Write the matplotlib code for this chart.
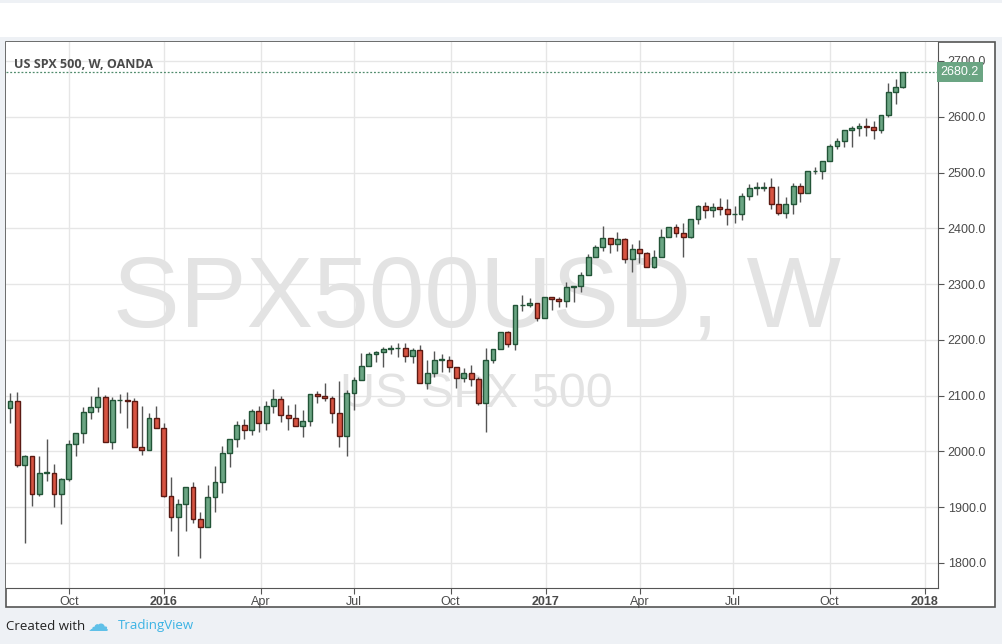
import matplotlib
matplotlib.use("Agg")
import matplotlib.pyplot as plt
from matplotlib.patches import Rectangle

# weekly candles, US SPX 500 (OANDA)
opens = [2078, 2090, 1976, 1992, 1923, 1962, 1962, 1924, 1951, 2014, 2033, 2071, 2080, 2098, 2017, 2092,
         2092, 2090, 2008, 2003, 2060, 2042, 1920, 1882, 1906, 1936, 1879, 1864, 1918, 1945, 1997, 2022,
         2048, 2039, 2073, 2050, 2082, 2093, 2066, 2059, 2046, 2054, 2102, 2100, 2096, 2068, 2027, 2104,
         2128, 2153, 2174, 2178, 2183, 2185, 2185, 2171, 2181, 2122, 2140, 2164, 2164, 2151, 2131, 2140,
         2129, 2086, 2164, 2183, 2214, 2192, 2262, 2262, 2266, 2240, 2276, 2274, 2270, 2294, 2296, 2316,
         2349, 2366, 2382, 2372, 2380, 2345, 2362, 2356, 2330, 2348, 2384, 2402, 2391, 2384, 2416, 2440,
         2432, 2438, 2434, 2425, 2425, 2458, 2472, 2473, 2474, 2443, 2427, 2443, 2476, 2463, 2502, 2502,
         2520, 2547, 2557, 2576, 2580, 2584, 2581, 2577, 2603, 2644, 2653]
closes = [2090, 1976, 1992, 1923, 1962, 1962, 1924, 1951, 2014, 2033, 2071, 2080, 2098, 2017, 2092, 2092,
          2090, 2008, 2003, 2060, 2042, 1920, 1882, 1906, 1936, 1879, 1864, 1918, 1945, 1997, 2022, 2048,
          2039, 2073, 2050, 2082, 2093, 2066, 2059, 2046, 2054, 2102, 2100, 2096, 2068, 2027, 2104, 2128,
          2153, 2174, 2178, 2183, 2185, 2185, 2171, 2181, 2122, 2140, 2164, 2164, 2151, 2131, 2140, 2129,
          2086, 2164, 2183, 2214, 2192, 2262, 2262, 2266, 2240, 2276, 2274, 2270, 2294, 2296, 2316, 2349,
          2366, 2382, 2372, 2380, 2345, 2362, 2356, 2330, 2348, 2384, 2402, 2391, 2384, 2416, 2440, 2432,
          2438, 2434, 2425, 2425, 2458, 2472, 2474, 2474, 2443, 2427, 2443, 2476, 2463, 2502, 2502, 2520,
          2547, 2557, 2576, 2580, 2584, 2581, 2577, 2603, 2644, 2653, 2680.2]
highs = [2105, 2107, 1994, 1992, 1992, 2023, 1978, 1952, 2021, 2033, 2080, 2100, 2116, 2101, 2098, 2102,
         2107, 2096, 2082, 2068, 2082, 2051, 1954, 1915, 1936, 1945, 1891, 1939, 1973, 2010, 2022, 2054,
         2058, 2076, 2081, 2090, 2111, 2100, 2083, 2085, 2074, 2102, 2108, 2123, 2100, 2127, 2110, 2133,
         2176, 2179, 2180, 2188, 2191, 2195, 2195, 2185, 2190, 2164, 2180, 2175, 2171, 2151, 2149, 2155,
         2134, 2185, 2183, 2214, 2216, 2262, 2281, 2275, 2266, 2276, 2277, 2277, 2304, 2296, 2321, 2354,
         2370, 2404, 2382, 2394, 2382, 2372, 2379, 2357, 2361, 2398, 2402, 2408, 2409, 2417, 2442, 2447,
         2446, 2454, 2452, 2440, 2464, 2479, 2483, 2483, 2491, 2476, 2456, 2482, 2482, 2502, 2510, 2520,
         2552, 2561, 2577, 2583, 2589, 2597, 2592, 2604, 2660, 2667, 2681]
lows = [2051, 1972, 1835, 1902, 1920, 1947, 1900, 1870, 1947, 1991, 2015, 2058, 2070, 2017, 2004, 2069,
        2042, 2008, 1994, 2003, 2042, 1919, 1857, 1812, 1858, 1872, 1809, 1864, 1891, 1926, 1972, 2007,
        2023, 2030, 2035, 2039, 2068, 2053, 2038, 2045, 2026, 2046, 2086, 2091, 2051, 2008, 1991, 2075,
        2128, 2153, 2161, 2151, 2175, 2170, 2161, 2158, 2122, 2111, 2134, 2142, 2143, 2114, 2124, 2117,
        2083, 2034, 2158, 2183, 2188, 2182, 2251, 2258, 2234, 2240, 2254, 2258, 2258, 2268, 2286, 2316,
        2348, 2360, 2356, 2360, 2337, 2322, 2337, 2330, 2328, 2348, 2384, 2384, 2348, 2382, 2407, 2418,
        2421, 2423, 2406, 2410, 2414, 2451, 2460, 2466, 2434, 2423, 2419, 2425, 2448, 2463, 2497, 2489,
        2520, 2543, 2546, 2545, 2566, 2566, 2560, 2570, 2600, 2622, 2651]

# time-axis labels (positions in bar index units)
tick_pos = [8.1, 21.0, 34.3, 47.0, 60.2, 73.2, 86.1, 98.8, 112.0, 125.0]
tick_lbl = ["Oct", "2016", "Apr", "Jul", "Oct", "2017", "Apr", "Jul", "Oct", "2018"]
price_ticks = [1800, 1900, 2000, 2100, 2200, 2300, 2400, 2500, 2600, 2700]
last_price = 2680.2

UP, UP_EDGE = "#6ba583", "#225437"
DN, DN_EDGE = "#d75442", "#5b1a13"
TXT = "#4a4a4a"
AXFONT = "Liberation Sans"
W, H = 1002, 644

fig = plt.figure(figsize=(W / 100, H / 100), dpi=100)
fig.patch.set_facecolor("#eef1f5")
# white top strip and chart panel
fig.patches.append(Rectangle((0, 1 - 37 / H), 1, 34 / H, transform=fig.transFigure,
                             facecolor="white", edgecolor="none", zorder=-2))
fig.patches.append(Rectangle((6 / W, 1 - 607 / H), 989 / W, 565 / H, transform=fig.transFigure,
                             facecolor="white", edgecolor="#555555", lw=1.2, zorder=-2))

ax = fig.add_axes([6 / W, 1 - 588 / H, 932 / W, 546 / H])
ax.set_zorder(2)
ax.set_facecolor("white")
ax.set_xlim(-0.55, 126.8)
ax.set_ylim(1755, 2734)

for x in tick_pos:
    ax.axvline(x, color="#e6e6e6", lw=1, zorder=0)
for y in price_ticks:
    ax.axhline(y, color="#e6e6e6", lw=1, zorder=0)

# watermark
ax.text(0.505, 0.525, "SPX500USD, W", transform=ax.transAxes, ha="center", va="center",
        fontsize=72, color="#e3e3e3", zorder=0.5, family=AXFONT)
ax.text(0.505, 0.355, "US SPX 500", transform=ax.transAxes, ha="center", va="center",
        fontsize=35, color="#e3e3e3", zorder=0.5, family=AXFONT)

bw = 0.66
for i, (o, h, l, c) in enumerate(zip(opens, highs, lows, closes)):
    up = c >= o
    edge = UP_EDGE if up else DN_EDGE
    ax.vlines(i, l, h, color="#555555", lw=1, zorder=2)
    lo, hi = min(o, c), max(o, c)
    ax.add_patch(Rectangle((i - bw / 2, lo), bw, max(hi - lo, 0.8),
                           facecolor=UP if up else DN, edgecolor=edge, lw=1, zorder=3))

ax.axhline(last_price, color="#4f8a6b", lw=0.9, ls=(0, (1.5, 1.5)), zorder=1)

ax.yaxis.tick_right()
ax.set_yticks(price_ticks)
ax.set_yticklabels([f"{v:.1f}" for v in price_ticks], family=AXFONT)
ax.set_xticks(tick_pos)
ax.set_xticklabels(tick_lbl, family=AXFONT)
ax.tick_params(axis="y", length=4, color="#555555", labelcolor=TXT, labelsize=9, pad=3)
ax.tick_params(axis="x", length=4, color="#555555", labelcolor=TXT, labelsize=9, pad=2)
for lab in ax.get_xticklabels():
    if lab.get_text() in ("2016", "2017", "2018"):
        lab.set_fontweight("bold")
for s in ("top", "left"):
    ax.spines[s].set_visible(False)
for s in ("right", "bottom"):
    ax.spines[s].set_color("#555555")

ax.text(1.003, last_price, f"{last_price:.1f}", transform=ax.get_yaxis_transform(),
        ha="left", va="center", fontsize=9, color="white", family=AXFONT,
        bbox=dict(boxstyle="square,pad=0.3", facecolor="#6ba583", edgecolor="none"), zorder=5,
        clip_on=False)

ax.text(0.0085, 0.97, "US SPX 500, W, OANDA", transform=ax.transAxes, ha="left", va="top",
        fontsize=9, color=TXT, fontweight="bold", family="Open Sans")

fig.text(6 / W, 1 - 626 / H, "Created with", ha="left", va="center", fontsize=9.5,
         color="#222222", family="Open Sans")
fig.text(88 / W, 1 - 625 / H, "\u2601", ha="left", va="center", fontsize=15,
         color="#5fc0e8", family="DejaVu Sans")
fig.text(118 / W, 1 - 626 / H, "TradingView", ha="left", va="center", fontsize=9.5,
         color="#3bb3e4", family="Open Sans")

fig.savefig("out.png", dpi=100, facecolor=fig.get_facecolor())
